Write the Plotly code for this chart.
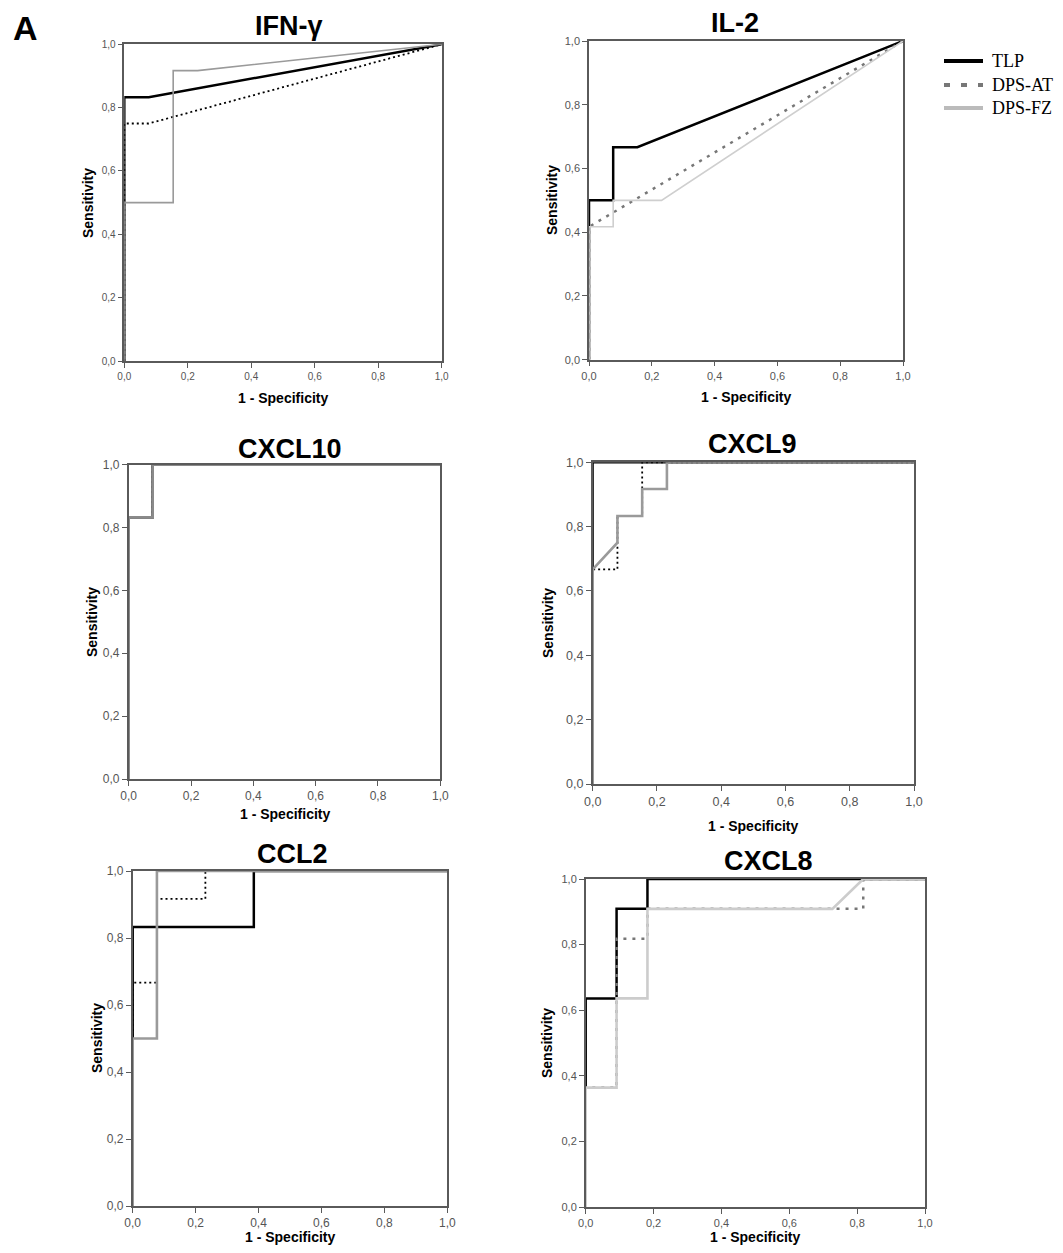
import plotly.graph_objects as go

# page body has an 8px default margin; figure is sized/positioned to compensate
OFF = 8
W, H = 1063 - 2 * OFF, 1253 - 2 * OFF

# ---------------- data (ROC curve coordinates) ----------------
series_names = ["TLP", "DPS-AT", "DPS-FZ"]
panel_titles = ["IFN-γ", "IL-2", "CXCL10", "CXCL9", "CCL2", "CXCL8"]
tick_vals = [0.0, 0.2, 0.4, 0.6, 0.8, 1.0]
tick_text = ["0,0", "0,2", "0,4", "0,6", "0,8", "1,0"]
x_title = "1 - Specificity"
y_title = "Sensitivity"

# IFN-gamma
ifn_tlp_x = [0, 0, 0.077, 1]
ifn_tlp_y = [0, 0.833, 0.833, 1]
ifn_at_x = [0, 0, 0.077, 1]
ifn_at_y = [0, 0.75, 0.75, 1]
ifn_fz_x = [0, 0, 0.154, 0.154, 0.231, 1]
ifn_fz_y = [0, 0.5, 0.5, 0.917, 0.917, 1]

# IL-2
il2_tlp_x = [0, 0, 0.077, 0.077, 0.154, 1]
il2_tlp_y = [0, 0.5, 0.5, 0.667, 0.667, 1]
il2_at_x = [0, 0, 1]
il2_at_y = [0, 0.417, 1]
il2_fz_x = [0, 0, 0.077, 0.077, 0.231, 1]
il2_fz_y = [0, 0.417, 0.417, 0.5, 0.5, 1]

# CXCL10
cx10_tlp_x = [0, 0, 0.077, 0.077, 1]
cx10_tlp_y = [0, 0.833, 0.833, 1, 1]
cx10_at_x = [0, 0, 0.077, 0.077, 1]
cx10_at_y = [0, 0.833, 0.833, 1, 1]
cx10_fz_x = [0, 0, 0.077, 0.077, 1]
cx10_fz_y = [0, 0.833, 0.833, 1, 1]

# CXCL9
cx9_tlp_x = [0, 0, 1]
cx9_tlp_y = [0, 1, 1]
cx9_at_x = [0, 0, 0.077, 0.077, 0.154, 0.154, 1]
cx9_at_y = [0, 0.667, 0.667, 0.833, 0.833, 1, 1]
cx9_fz_x = [0, 0, 0.077, 0.077, 0.154, 0.154, 0.231, 0.231, 1]
cx9_fz_y = [0, 0.667, 0.75, 0.833, 0.833, 0.917, 0.917, 1, 1]

# CCL2
ccl2_tlp_x = [0, 0, 0.385, 0.385, 1]
ccl2_tlp_y = [0, 0.833, 0.833, 1, 1]
ccl2_at_x = [0, 0, 0.077, 0.077, 0.231, 0.231, 1]
ccl2_at_y = [0, 0.667, 0.667, 0.917, 0.917, 1, 1]
ccl2_fz_x = [0, 0, 0.077, 0.077, 1]
ccl2_fz_y = [0, 0.5, 0.5, 1, 1]

# CXCL8
cx8_tlp_x = [0, 0, 0.091, 0.091, 0.182, 0.182, 1]
cx8_tlp_y = [0, 0.636, 0.636, 0.909, 0.909, 1, 1]
cx8_at_x = [0, 0, 0.091, 0.091, 0.182, 0.182, 0.818, 0.818, 1]
cx8_at_y = [0, 0.364, 0.364, 0.818, 0.818, 0.909, 0.909, 1, 1]
cx8_fz_x = [0, 0, 0.091, 0.091, 0.182, 0.182, 0.727, 0.818, 1]
cx8_fz_y = [0, 0.364, 0.364, 0.636, 0.636, 0.909, 0.909, 1, 1]

panel_data = [
    [(ifn_tlp_x, ifn_tlp_y), (ifn_at_x, ifn_at_y), (ifn_fz_x, ifn_fz_y)],
    [(il2_tlp_x, il2_tlp_y), (il2_at_x, il2_at_y), (il2_fz_x, il2_fz_y)],
    [(cx10_tlp_x, cx10_tlp_y), (cx10_at_x, cx10_at_y), (cx10_fz_x, cx10_fz_y)],
    [(cx9_tlp_x, cx9_tlp_y), (cx9_at_x, cx9_at_y), (cx9_fz_x, cx9_fz_y)],
    [(ccl2_tlp_x, ccl2_tlp_y), (ccl2_at_x, ccl2_at_y), (ccl2_fz_x, ccl2_fz_y)],
    [(cx8_tlp_x, cx8_tlp_y), (cx8_at_x, cx8_at_y), (cx8_fz_x, cx8_fz_y)],
]

# ---------------- layout / styles ----------------
# pixel boxes of plot areas in the page: (left, right, top, bottom)
boxes = [
    (124.3, 441.7, 44.3, 361.0),
    (589.0, 903.0, 41.0, 359.7),
    (128.7, 440.3, 464.7, 779.0),
    (592.7, 914.0, 462.3, 784.0),
    (132.7, 447.3, 871.0, 1206.0),
    (585.7, 925.0, 879.0, 1207.0),
]
tick_sizes = [10, 11, 12, 12.5, 12, 11]
title_pos = [(289, 26), (735, 23), (290, 449), (752, 444), (292, 854), (768, 861)]
xlab_pos = [(283, 398), (746, 397), (285, 814), (753, 826), (290, 1237), (755, 1237)]
ylab_pos = [(88, 203), (552, 200), (92, 622), (548, 623), (97, 1038), (547, 1043)]

# legend placement (page px)
leg_line_x = (944, 983)
leg_text_x = 990
leg_rows_y = [61, 85, 108]


def px(x):
    return (x - OFF) / W


def py(y):
    return 1 - (y - OFF) / H


DOT = "2px,3px"
SQDOT = "3px,6px"
styles = [
    [dict(color="#000000", width=2.5), dict(color="#000000", width=1.8, dash=DOT), dict(color="#9a9a9a", width=1.6)],
    [dict(color="#000000", width=2.5), dict(color="#777777", width=2.5, dash=SQDOT), dict(color="#cfcfcf", width=1.6)],
    [dict(color="#000000", width=2.5), dict(color="#000000", width=1.8, dash=DOT), dict(color="#8a8a8a", width=2.6)],
    [dict(color="#000000", width=2.2), dict(color="#000000", width=1.8, dash=DOT), dict(color="#9a9a9a", width=2.6)],
    [dict(color="#000000", width=2.5), dict(color="#000000", width=1.8, dash=DOT), dict(color="#9a9a9a", width=2.6)],
    [dict(color="#000000", width=2.5), dict(color="#777777", width=2.5, dash=SQDOT), dict(color="#cccccc", width=2.6)],
]
legend_styles = [
    dict(color="#000000", width=4),
    dict(color="#777777", width=4, dash="6px,11px"),
    dict(color="#bbbbbb", width=4),
]

FONT = "Arial, Liberation Sans, Helvetica, sans-serif"
SERIF = "Liberation Serif, Times New Roman, serif"

fig = go.Figure()
annotations = []
shapes = []
layout_axes = {}

for i, (box, curves, st) in enumerate(zip(boxes, panel_data, styles)):
    n = "" if i == 0 else str(i + 1)
    xa, ya = "x" + n, "y" + n
    for (cx, cy), name, s in zip(curves, series_names, st):
        fig.add_trace(go.Scatter(x=cx, y=cy, mode="lines", name=name, line=s,
                                 xaxis=xa, yaxis=ya, showlegend=False, hoverinfo="skip"))
    l, r, t, b = box
    ax_common = dict(range=[0, 1], tickvals=tick_vals, ticktext=tick_text,
                     showgrid=False, zeroline=False, showline=True, linecolor="#5a5a5a",
                     linewidth=1.5, mirror=True, ticks="outside", ticklen=5, tickwidth=1.2,
                     tickcolor="#5a5a5a",
                     tickfont=dict(family=FONT, size=tick_sizes[i], color="#555555"),
                     fixedrange=True)
    layout_axes["xaxis" + n] = dict(ax_common, domain=[px(l), px(r)], anchor=ya)
    layout_axes["yaxis" + n] = dict(ax_common, domain=[py(b), py(t)], anchor=xa)

    tx, ty = title_pos[i]
    annotations.append(dict(text="<b>%s</b>" % panel_titles[i], x=px(tx), y=py(ty),
                            xref="paper", yref="paper", showarrow=False,
                            xanchor="center", yanchor="middle",
                            font=dict(family=FONT, size=27, color="#000000")))
    lx, ly = xlab_pos[i]
    annotations.append(dict(text="<b>%s</b>" % x_title, x=px(lx), y=py(ly),
                            xref="paper", yref="paper", showarrow=False,
                            xanchor="center", yanchor="middle",
                            font=dict(family=FONT, size=14, color="#000000")))
    sx, sy = ylab_pos[i]
    annotations.append(dict(text="<b>%s</b>" % y_title, x=px(sx), y=py(sy),
                            xref="paper", yref="paper", showarrow=False, textangle=-90,
                            xanchor="center", yanchor="middle",
                            font=dict(family=FONT, size=14, color="#000000")))

# legend (key samples + labels)
for name, s, ry in zip(series_names, legend_styles, leg_rows_y):
    shapes.append(dict(type="line", xref="paper", yref="paper",
                       x0=px(leg_line_x[0]), x1=px(leg_line_x[1]), y0=py(ry), y1=py(ry),
                       line=s))
    annotations.append(dict(text=name, x=px(leg_text_x), y=py(ry), xref="paper", yref="paper",
                            showarrow=False, xanchor="left", yanchor="middle",
                            font=dict(family=SERIF, size=18, color="#000000")))

annotations.append(dict(text="<b>A</b>", x=px(25), y=py(28), xref="paper", yref="paper",
                        showarrow=False, xanchor="center", yanchor="middle",
                        font=dict(family=FONT, size=34, color="#000000")))

fig.update_layout(
    width=W, height=H,
    margin=dict(l=0, r=0, t=0, b=0, pad=0, autoexpand=False),
    paper_bgcolor="white", plot_bgcolor="white",
    annotations=annotations,
    shapes=shapes,
    showlegend=False,
    **layout_axes,
)

fig.write_html("out.html")
